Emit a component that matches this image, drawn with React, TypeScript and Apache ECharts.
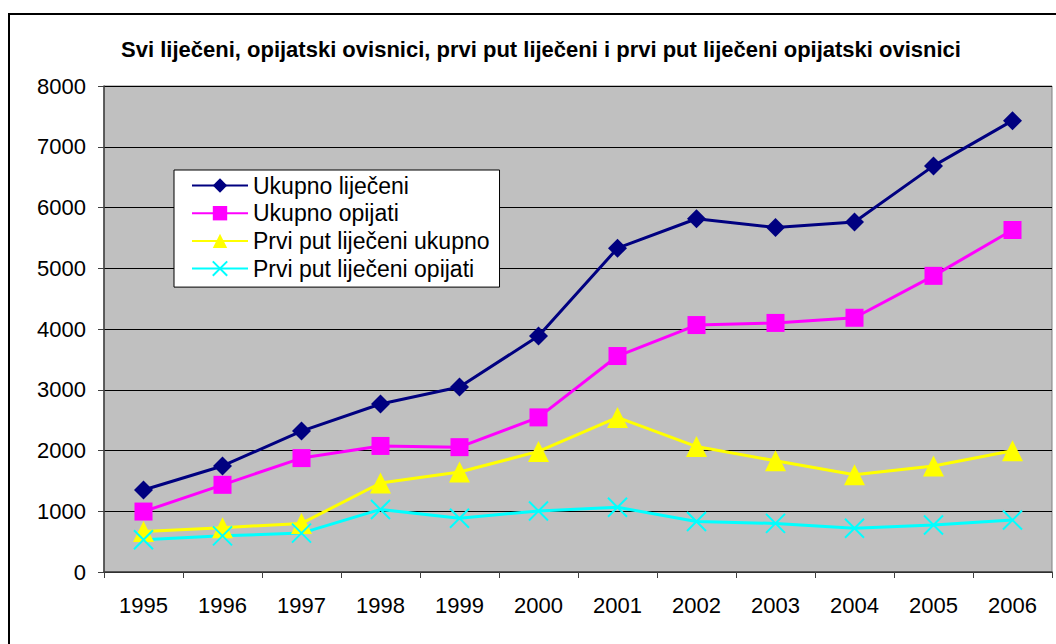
import React, { useEffect, useRef } from "react";
import * as echarts from "echarts";

const years = ["1995", "1996", "1997", "1998", "1999", "2000", "2001", "2002", "2003", "2004", "2005", "2006"];
const ukupnoLijeceni = [1350, 1745, 2320, 2765, 3045, 3885, 5330, 5815, 5670, 5760, 6685, 7430];
const ukupnoOpijati = [995, 1435, 1875, 2075, 2055, 2545, 3555, 4065, 4100, 4185, 4875, 5630];
const prviPutUkupno = [665, 730, 800, 1465, 1645, 1985, 2545, 2065, 1830, 1600, 1745, 1995];
const prviPutOpijati = [530, 595, 640, 1030, 885, 1005, 1065, 830, 800, 720, 775, 855];
const seriesNames = ["Ukupno liječeni", "Ukupno opijati", "Prvi put liječeni ukupno", "Prvi put liječeni opijati"];
const titleText = "Svi liječeni, opijatski ovisnici, prvi put liječeni i prvi put liječeni opijatski ovisnici";

const FONT = "'Liberation Sans', Arial, sans-serif";

export default function App() {
  const ref = useRef<HTMLDivElement>(null);
  useEffect(() => {
    if (!ref.current) return;
    const chart = echarts.init(ref.current, null, { renderer: "svg" });
    const mk = (name: string, data: number[], color: string, symbol: string, size: number, bw = 0) => ({
      name,
      type: "line",
      data,
      symbol,
      symbolSize: size,
      lineStyle: { color, width: 3 },
      itemStyle: { color, borderColor: color, borderWidth: bw },
    });
    chart.setOption({
      animation: false,
      backgroundColor: "#ffffff",
      textStyle: { fontFamily: FONT },
      title: {
        text: titleText,
        left: 536,
        textAlign: "center",
        top: 33,
        textStyle: { fontFamily: FONT, fontSize: 22, fontWeight: "bold", color: "#000" },
      },
      graphic: [
        {
          type: "rect",
          shape: { x: 9, y: 14, width: 2000, height: 2000 },
          style: { fill: "none", stroke: "#000", lineWidth: 2 },
          silent: true,
        },
      ],
      legend: {
        left: 174,
        top: 170,
        orient: "vertical",
        backgroundColor: "#ffffff",
        borderColor: "#000",
        borderWidth: 1,
        borderRadius: 0,
        padding: [4, 10, 7, 17],
        itemWidth: 56,
        itemHeight: 18,
        itemGap: 4.7,
        textStyle: { fontFamily: FONT, fontSize: 23, color: "#000" },
        data: seriesNames,
      },
      grid: {
        left: 104,
        right: 4,
        top: 86,
        bottom: 72,
        show: true,
        backgroundColor: "#C0C0C0",
        borderColor: "#808080",
        borderWidth: 1,
      },
      xAxis: {
        type: "category",
        data: years,
        boundaryGap: true,
        axisLine: { lineStyle: { color: "#404040", width: 1.5 } },
        axisTick: { show: true, length: 6, lineStyle: { color: "#404040" } },
        axisLabel: { fontFamily: FONT, fontSize: 22, color: "#000", margin: 22 },
        splitLine: { show: false },
      },
      yAxis: {
        type: "value",
        min: 0,
        max: 8000,
        interval: 1000,
        axisLine: { show: true, lineStyle: { color: "#404040", width: 1.5 } },
        axisTick: { show: true, length: 6, lineStyle: { color: "#404040" } },
        axisLabel: { fontFamily: FONT, fontSize: 22, color: "#000", margin: 18, formatter: (v: number) => String(v) },
        splitLine: { show: true, lineStyle: { color: "#000", width: 1 } },
      },
      series: [
        mk(seriesNames[0], ukupnoLijeceni, "#000080", "diamond", 19),
        mk(seriesNames[1], ukupnoOpijati, "#FF00FF", "rect", 18),
        mk(seriesNames[2], prviPutUkupno, "#FFFF00", "triangle", 21),
        mk(seriesNames[3], prviPutOpijati, "#00FFFF", "path://M0 0L10 10M10 0L0 10", 19, 2),
      ],
    });
    return () => chart.dispose();
  }, []);
  return <div ref={ref} style={{ position: "absolute", left: 0, top: 0, width: 1056, height: 644 }} />;
}
